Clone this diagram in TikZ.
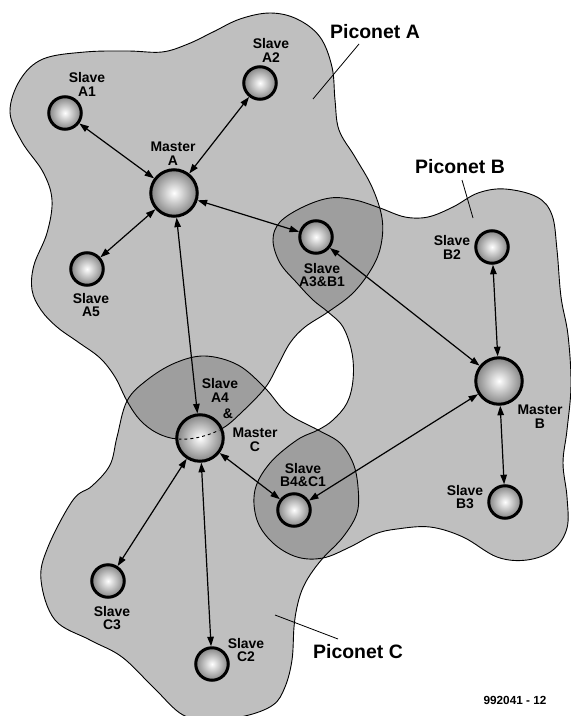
\documentclass[tikz,border=0pt]{standalone}
\usepackage{fontspec}
\setmainfont{Liberation Sans}
\usetikzlibrary{arrows.meta}
\definecolor{netgray}{gray}{0.75}
\definecolor{lapgray}{gray}{0.62}

\def\netA{plot[smooth cycle,tension=0.6] coordinates {(10,112) (20,80) (43,59) (85,52) (128,51) (162,52) (188,44) (213,32) (240,19) (270,13) (297,19) (320,37) (332,67) (335,100) (339,130) (355,157) (372,187) (382,218) (381,245) (372,268) (353,293) (328,312) (305,327) (290,343) (277,367) (265,388) (242,412) (223,428) (200,437) (177,439) (157,433) (140,420) (127,401) (115,377) (100,358) (78,342) (57,327) (41,310) (32,290) (34,265) (47,233) (52,200) (43,172) (22,142)}}
\def\netB{plot[smooth cycle,tension=0.6] coordinates {(303,207) (330,198) (355,200) (380,208) (405,217) (428,217) (453,207) (478,193) (505,189) (537,197) (552,215) (557,250) (561,297) (568,335) (571,385) (567,430) (563,463) (567,497) (567,528) (553,550) (527,560) (497,557) (463,537) (430,527) (397,529) (375,534) (350,547) (323,558) (297,557) (273,543) (257,520) (255,490) (270,463) (297,440) (318,430) (333,420) (347,403) (353,380) (352,353) (343,327) (328,312) (313,300) (297,283) (280,263) (273,240) (280,222)}}
\def\netC{plot[smooth cycle,tension=0.6] coordinates {(127,401) (147,380) (175,363) (205,356) (238,365) (265,388) (287,413) (318,430) (340,443) (353,463) (358,487) (357,513) (343,537) (323,558) (310,575) (302,590) (297,607) (294,627) (292,660) (285,687) (273,705) (245,716) (212,719) (183,715) (154,688) (122,657) (90,640) (55,620) (41,580) (48,547) (73,500) (92,486) (110,465) (117,437)}}

\begin{document}
\begin{tikzpicture}[x=1bp,y=-1bp,
  slave/.style={draw,circle,line width=3bp,minimum size=32.5bp,inner sep=0pt,inner color=white,outer color=black!48},
  master/.style={slave,minimum size=46.5bp},
  link/.style={line width=1.2bp,<->,>={Triangle[length=9.5bp,width=6.5bp]}},
  lab/.style={font=\bfseries\fontsize{14}{14}\selectfont,align=center,inner sep=0pt},
  netlab/.style={font=\bfseries\fontsize{19.5}{20}\selectfont,inner sep=0pt}]
\useasboundingbox (0,0) rectangle (571,716);

% piconets
\fill[netgray] \netA;
\fill[netgray] \netB;
\fill[netgray] \netC;
\begin{scope}
\clip \netA;
\fill[lapgray] \netB;
\fill[lapgray] \netC;
\end{scope}
\begin{scope}
\clip \netB;
\fill[lapgray] \netC;
\end{scope}
\draw[line width=0.9bp] \netA;
\draw[line width=0.9bp] \netB;
\draw[line width=0.9bp] \netC;

% stations
\node[slave] (sa1) at (65,113) {};
\node[slave] (sa2) at (260,83) {};
\node[master] (ma) at (174,193) {};
\node[slave] (sa5) at (87,269) {};
\node[slave] (sab) at (316,237) {};
\node[slave] (sb2) at (492,247) {};
\node[master] (mb) at (499,381) {};
\node[slave] (sb3) at (505,502) {};
\node[master] (mc) at (200,438) {};
\node[slave] (sbc) at (294,510) {};
\node[slave] (sc3) at (108,581) {};
\node[slave] (sc2) at (212,664) {};

\begin{scope}
\clip (mc.center) circle (21bp);
\draw[dashed,line width=0.9bp] \netA;
\end{scope}

% links
\path[draw,link] (ma) -- (sa1);
\path[draw,link] (ma) -- (sa2);
\path[draw,link] (ma) -- (sa5);
\path[draw,link] (ma) -- (sab);
\path[draw,link] (ma) -- (mc);
\path[draw,link] (mb) -- (sab);
\path[draw,link] (mb) -- (sb2);
\path[draw,link] (mb) -- (sb3);
\path[draw,link] (mb) -- (sbc);
\path[draw,link] (mc) -- (sbc);
\path[draw,link] (mc) -- (sc3);
\path[draw,link] (mc) -- (sc2);

% labels
\node[lab] (la1) at (87,84) {Slave\\A1};
\node[lab] (la2) at (271,50) {Slave\\A2};
\node[lab] (lma) at (173,154) {Master\\A};
\node[lab] (la5) at (91,305) {Slave\\A5};
\node[lab] (lab1) at (322,275) {Slave\\A3\&B1};
\node[lab] (lb2) at (452,247) {Slave\\B2};
\node[lab] (lmb) at (540,417) {Master\\B};
\node[lab] (lb3) at (465,497) {Slave\\B3};
\node[lab] (la4) at (220,390) {Slave\\A4};
\node[lab] (lamp) at (228,414) {\&};
\node[lab] (lmc) at (255,440) {Master\\C};
\node[lab] (lbc1) at (303,475) {Slave\\B4\&C1};
\node[lab] (lc3) at (112,618) {Slave\\C3};
\node[lab] (lc2) at (246,650) {Slave\\C2};

\node[netlab] (neta) at (375,32) {Piconet A};
\node[netlab] (netb) at (460,167) {Piconet B};
\node[netlab] (netc) at (358,652) {Piconet C};
\coordinate (pa0) at (313,99);
\coordinate (pa1) at (359,44);
\coordinate (pb0) at (473,218);
\coordinate (pb1) at (462,180);
\coordinate (pc0) at (275,615);
\coordinate (pc1) at (338,639);
\draw[line width=0.8bp] (pa0) -- (pa1);
\draw[line width=0.8bp] (pb0) -- (pb1);
\draw[line width=0.8bp] (pc0) -- (pc1);

\node[font=\bfseries\fontsize{11.8}{12}\selectfont,inner sep=0pt] (fig) at (515,700) {992041 - 12};
\end{tikzpicture}
\end{document}
